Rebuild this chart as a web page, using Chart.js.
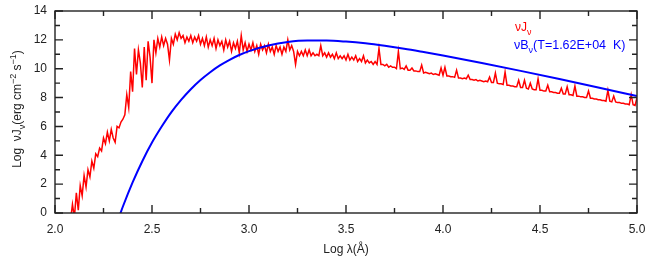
<!DOCTYPE html>
<html>
<head>
<meta charset="utf-8">
<script src="https://cdn.jsdelivr.net/npm/chart.js@4"></script>
<style>
  html, body { margin: 0; padding: 0; background: #fff; }
</style>
</head>
<body>
<canvas id="chart" width="654" height="260"></canvas>
<script>
// spectrum sampled on a log-lambda grid, starting at 2.08, every 0.01
const specStart = 2.08
const specStep = 0.01
const specFlux = [
  -0.5, 0.6,
  -0.3, 1.4, 0.2, 1.9, 1.2, 2.6, 1.8, 3.0, 2.5, 3.6,
  3.1, 4.1, 3.9, 4.5, 4.3, 5.2, 4.8, 5.6, 5.0, 5.8,
  5.2, 4.9, 6.0, 5.9, 6.3, 6.5, 6.8, 8.2, 7.3, 9.8,
  8.4, 11.4, 9.6, 11.3, 10.4, 8.7, 11.5, 9.2, 11.9, 10.8,
  9.0, 12.0, 11.1, 12.1, 11.5, 12.2, 11.6, 12.1, 11.7, 10.6,
  12.1, 11.7, 12.4, 12.0, 12.5, 12.1, 12.3, 11.8, 12.2, 11.9,
  12.3, 11.8, 12.2, 11.9, 12.3, 11.7, 12.1, 11.6, 12.2, 11.5,
  12.0, 11.6, 12.1, 11.4, 12.0, 11.6, 11.9, 11.3, 12.0, 11.5,
  11.9, 11.2, 11.8, 11.4, 11.9, 11.1, 12.3, 11.3, 11.8, 11.2,
  11.7, 11.3, 11.8, 11.2, 11.6, 11.0, 11.7, 11.3, 11.6, 11.1,
  11.7, 11.2, 11.5, 11.0, 11.6, 11.2, 11.5, 11.0, 11.5, 11.2,
  12.0, 11.3, 11.6, 11.2, 10.3, 11.2, 10.9, 11.2, 10.9, 11.3,
  10.9, 11.3, 10.9, 11.1, 10.9, 11.0, 10.9, 11.6, 10.9, 11.1,
  10.8, 11.1, 10.8, 11.0, 10.7, 11.1, 10.7, 10.9, 10.7, 10.9,
  10.6, 11.0, 10.6, 10.8, 10.6, 10.9, 10.5, 10.7, 10.5, 10.9,
  10.4, 10.6, 10.4, 10.5, 10.3, 10.5, 10.3, 11.4, 10.3, 10.3,
  10.2, 10.3, 10.1, 10.2, 10.1, 10.1, 10.0, 11.2, 10.0, 10.05,
  9.95, 10.2, 9.9, 9.9, 10.05, 9.85, 9.85, 9.8, 9.8, 10.25,
  9.7, 9.75, 9.7, 9.65, 9.7, 9.6, 9.65, 9.6, 9.55, 10.05,
  9.55, 10.1, 9.5, 9.5, 9.45, 9.45, 9.4, 9.9, 9.35, 9.35,
  9.3, 9.35, 9.3, 9.55, 9.25, 9.25, 9.2, 9.25, 9.15, 9.2,
  9.15, 9.1, 9.15, 9.1, 9.42, 9.05, 9.05, 9.7, 9.0, 8.95,
  8.95, 8.9, 9.77, 8.85, 8.85, 8.8, 8.8, 8.75, 8.75, 9.2,
  8.7, 8.7, 9.2, 8.65, 8.6, 9.0, 8.6, 8.55, 8.55, 9.3,
  8.5, 8.5, 8.45, 8.45, 8.85, 8.4, 8.4, 8.35, 8.35, 8.3,
  8.3, 8.65, 8.25, 8.25, 8.75, 8.2, 8.2, 8.15, 8.8, 8.1,
  8.1, 8.05, 8.05, 8.0, 8.0, 8.45, 7.95, 7.95, 7.9, 7.9,
  7.85, 7.85, 7.8, 7.8, 7.75, 8.5, 7.75, 7.7, 8.1, 7.7,
  7.65, 7.65, 7.6, 7.6, 7.55, 7.55, 7.5, 8.2, 7.5, 7.45,
  8.0,
]

// blackbody curve
const bbLogLam = [2.33, 2.35, 2.40, 2.45, 2.50, 2.55, 2.60, 2.65, 2.70, 2.75, 2.80, 2.85, 2.90, 2.95,
  3.00, 3.10, 3.20, 3.30, 3.40, 3.50, 3.60, 3.70, 3.80, 3.90, 4.00, 4.20, 4.40, 4.60, 4.80, 5.00]
const bbFlux = [-0.29, 0.45, 2.12, 3.59, 4.88, 5.99, 6.99, 7.84, 8.58, 9.22, 9.76, 10.23, 10.62, 10.95,
  11.22, 11.61, 11.85, 11.95, 11.95, 11.88, 11.76, 11.59, 11.39, 11.16, 10.92, 10.40, 9.85, 9.28, 8.70, 8.11]

const xTickVals = [2.0, 2.5, 3.0, 3.5, 4.0, 4.5, 5.0]
const xMinorVals = [2.25, 2.75, 3.25, 3.75, 4.25, 4.75]
const yTickVals = [0, 2, 4, 6, 8, 10, 12, 14]
const yMinorVals = [1, 3, 5, 7, 9, 11, 13]

const specLabel = 'νJ_{ν}'
const bbLabel = 'νB_{ν}(T=1.62E+04  K)'
const xTitle = 'Log λ(Å)'
const yTitle = 'Log  νJ_{ν}(erg cm^{−2} s^{−1})'

const FONT = '"Liberation Sans", Arial, sans-serif'
const INK = '#222'

const specPoints = specFlux.map((y, i) => ({ x: +(specStart + i * specStep).toFixed(2), y }))
const bbPoints = bbLogLam.map((x, i) => ({ x, y: bbFlux[i] }))

// text with _{sub} and ^{sup} pieces
function parseRich(str) {
  const out = []
  const re = /([_^])\{([^}]*)\}|([^_^]+)/g
  let m
  while ((m = re.exec(str))) {
    if (m[3]) out.push({ t: m[3], mode: 0 })
    else out.push({ t: m[2], mode: m[1] === '_' ? -1 : 1 })
  }
  return out
}

function drawRich(ctx, str, x, y, size, color, align) {
  const parts = parseRich(str)
  const small = Math.round(size * 0.75)
  let w = 0
  parts.forEach(p => {
    ctx.font = (p.mode ? small : size) + 'px ' + FONT
    p.w = ctx.measureText(p.t).width
    w += p.w
  })
  let cx = align === 'center' ? x - w / 2 : align === 'right' ? x - w : x
  ctx.fillStyle = color
  ctx.textAlign = 'left'
  ctx.textBaseline = 'alphabetic'
  parts.forEach(p => {
    ctx.font = (p.mode ? small : size) + 'px ' + FONT
    const dy = p.mode === -1 ? size * 0.3 : p.mode === 1 ? -size * 0.4 : 0
    ctx.fillText(p.t, cx, y + dy)
    cx += p.w
  })
}

const framePlugin = {
  id: 'frame',
  afterDatasetsDraw(chart) {
    const { ctx, chartArea: a, scales } = chart
    ctx.save()
    ctx.strokeStyle = INK
    ctx.lineWidth = 1.4
    ctx.strokeRect(a.left, a.top, a.right - a.left, a.bottom - a.top)
    const tick = (vals, len) => {
      vals.forEach(v => {
        const px = scales.x.getPixelForValue(v)
        ctx.moveTo(px, a.bottom); ctx.lineTo(px, a.bottom - len)
        ctx.moveTo(px, a.top); ctx.lineTo(px, a.top + len)
      })
    }
    const ytick = (vals, len) => {
      vals.forEach(v => {
        const py = scales.y.getPixelForValue(v)
        ctx.moveTo(a.left, py); ctx.lineTo(a.left + len, py)
        ctx.moveTo(a.right, py); ctx.lineTo(a.right - len, py)
      })
    }
    ctx.beginPath()
    tick(xTickVals, 8)
    tick(xMinorVals, 5)
    ytick(yTickVals, 8)
    ytick(yMinorVals, 5)
    ctx.stroke()
    ctx.restore()
  },
  afterDraw(chart) {
    const { ctx, chartArea: a } = chart
    ctx.save()
    drawRich(ctx, xTitle, (a.left + a.right) / 2, 253, 12, INK, 'center')
    ctx.translate(21, (a.top + a.bottom) / 2 - 3)
    ctx.rotate(-Math.PI / 2)
    drawRich(ctx, yTitle, 0, 0, 12, INK, 'center')
    ctx.restore()
    ctx.save()
    drawRich(ctx, specLabel, 515, 31, 12, '#ff0000', 'left')
    drawRich(ctx, bbLabel, 514, 49, 12.5, '#0000ff', 'left')
    ctx.restore()
  },
}

// keep the plot box where the reference has it
const noEdgePad = s => {
  s.paddingTop = 0
  s.paddingBottom = 0
  s.paddingLeft = 0
  s.paddingRight = 0
}

new Chart(document.getElementById('chart'), {
  type: 'line',
  data: {
    datasets: [
      {
        label: specLabel,
        data: specPoints,
        borderColor: '#ff0000',
        borderWidth: 1.5,
        pointRadius: 0,
        tension: 0,
        order: 1,
      },
      {
        label: bbLabel,
        data: bbPoints,
        borderColor: '#0000ff',
        borderWidth: 2,
        pointRadius: 0,
        cubicInterpolationMode: 'monotone',
        order: 0,
      },
    ],
  },
  options: {
    responsive: false,
    animation: false,
    events: [],
    layout: { padding: { left: 0, right: 17, top: 11, bottom: 0 } },
    plugins: { legend: { display: false }, tooltip: { enabled: false } },
    scales: {
      x: {
        type: 'linear',
        min: 2,
        max: 5,
        afterBuildTicks: s => { s.ticks = xTickVals.map(v => ({ value: v })) },
        afterFit: s => { s.height = 47; noEdgePad(s) },
        ticks: {
          callback: v => v.toFixed(1),
          font: { family: FONT, size: 12 },
          color: INK,
          padding: 9,
          maxRotation: 0,
          autoSkip: false,
        },
        grid: { display: false, drawTicks: false },
        border: { display: false },
      },
      y: {
        type: 'linear',
        min: 0,
        max: 14,
        afterBuildTicks: s => { s.ticks = yTickVals.map(v => ({ value: v })) },
        afterFit: s => { s.width = 55; noEdgePad(s) },
        ticks: {
          callback: v => String(v),
          font: { family: FONT, size: 12 },
          color: INK,
          padding: 8,
          autoSkip: false,
        },
        grid: { display: false, drawTicks: false },
        border: { display: false },
      },
    },
  },
  plugins: [framePlugin],
})
</script>
</body>
</html>
